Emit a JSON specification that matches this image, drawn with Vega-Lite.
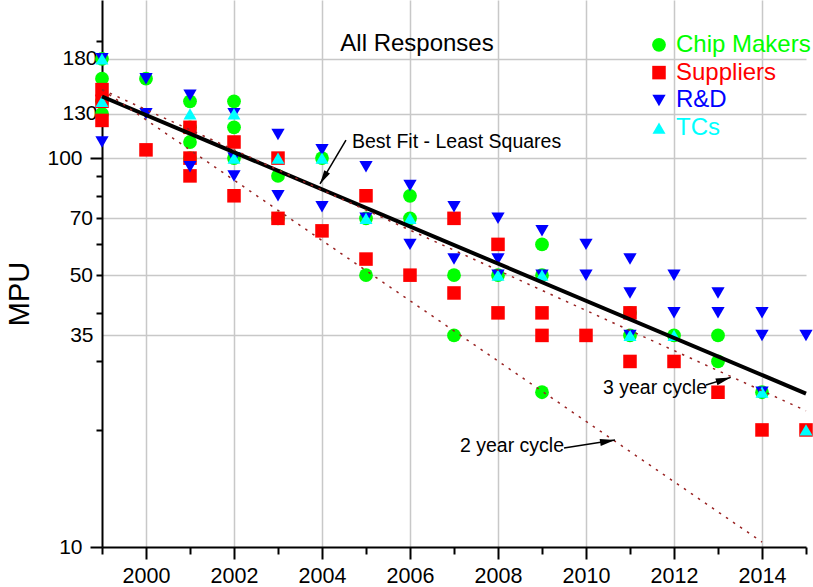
{
  "$schema": "https://vega.github.io/schema/vega-lite/v6.json",
  "width": 704,
  "height": 547,
  "autosize": {"type": "none"},
  "padding": {"left": 102, "top": 0, "right": 7, "bottom": 40},
  "background": "white",
  "config": {"font": "Liberation Sans", "view": {"stroke": null}},
  "datasets": {
    "responses": [
      {"series": "Chip Makers", "year": 1999, "mpu": 180},
      {"series": "Chip Makers", "year": 1999, "mpu": 160},
      {"series": "Chip Makers", "year": 1999, "mpu": 140},
      {"series": "Chip Makers", "year": 1999, "mpu": 130},
      {"series": "Chip Makers", "year": 2000, "mpu": 160},
      {"series": "Chip Makers", "year": 2001, "mpu": 140},
      {"series": "Chip Makers", "year": 2001, "mpu": 120},
      {"series": "Chip Makers", "year": 2001, "mpu": 110},
      {"series": "Chip Makers", "year": 2001, "mpu": 100},
      {"series": "Chip Makers", "year": 2002, "mpu": 140},
      {"series": "Chip Makers", "year": 2002, "mpu": 120},
      {"series": "Chip Makers", "year": 2002, "mpu": 100},
      {"series": "Chip Makers", "year": 2003, "mpu": 90},
      {"series": "Chip Makers", "year": 2003, "mpu": 70},
      {"series": "Chip Makers", "year": 2004, "mpu": 100},
      {"series": "Chip Makers", "year": 2005, "mpu": 70},
      {"series": "Chip Makers", "year": 2005, "mpu": 50},
      {"series": "Chip Makers", "year": 2006, "mpu": 80},
      {"series": "Chip Makers", "year": 2006, "mpu": 70},
      {"series": "Chip Makers", "year": 2007, "mpu": 50},
      {"series": "Chip Makers", "year": 2007, "mpu": 35},
      {"series": "Chip Makers", "year": 2008, "mpu": 50},
      {"series": "Chip Makers", "year": 2009, "mpu": 60},
      {"series": "Chip Makers", "year": 2009, "mpu": 50},
      {"series": "Chip Makers", "year": 2009, "mpu": 25},
      {"series": "Chip Makers", "year": 2011, "mpu": 40},
      {"series": "Chip Makers", "year": 2011, "mpu": 35},
      {"series": "Chip Makers", "year": 2012, "mpu": 35},
      {"series": "Chip Makers", "year": 2013, "mpu": 35},
      {"series": "Chip Makers", "year": 2013, "mpu": 30},
      {"series": "Chip Makers", "year": 2014, "mpu": 25},
      {"series": "Suppliers", "year": 1999, "mpu": 150},
      {"series": "Suppliers", "year": 1999, "mpu": 140},
      {"series": "Suppliers", "year": 1999, "mpu": 125},
      {"series": "Suppliers", "year": 2000, "mpu": 105},
      {"series": "Suppliers", "year": 2001, "mpu": 120},
      {"series": "Suppliers", "year": 2001, "mpu": 100},
      {"series": "Suppliers", "year": 2001, "mpu": 90},
      {"series": "Suppliers", "year": 2002, "mpu": 110},
      {"series": "Suppliers", "year": 2002, "mpu": 80},
      {"series": "Suppliers", "year": 2003, "mpu": 100},
      {"series": "Suppliers", "year": 2003, "mpu": 70},
      {"series": "Suppliers", "year": 2004, "mpu": 65},
      {"series": "Suppliers", "year": 2005, "mpu": 80},
      {"series": "Suppliers", "year": 2005, "mpu": 55},
      {"series": "Suppliers", "year": 2006, "mpu": 50},
      {"series": "Suppliers", "year": 2007, "mpu": 70},
      {"series": "Suppliers", "year": 2007, "mpu": 45},
      {"series": "Suppliers", "year": 2008, "mpu": 60},
      {"series": "Suppliers", "year": 2008, "mpu": 40},
      {"series": "Suppliers", "year": 2009, "mpu": 40},
      {"series": "Suppliers", "year": 2009, "mpu": 35},
      {"series": "Suppliers", "year": 2010, "mpu": 35},
      {"series": "Suppliers", "year": 2011, "mpu": 40},
      {"series": "Suppliers", "year": 2011, "mpu": 30},
      {"series": "Suppliers", "year": 2012, "mpu": 30},
      {"series": "Suppliers", "year": 2013, "mpu": 25},
      {"series": "Suppliers", "year": 2014, "mpu": 20},
      {"series": "Suppliers", "year": 2015, "mpu": 20},
      {"series": "R&D", "year": 1999, "mpu": 180},
      {"series": "R&D", "year": 1999, "mpu": 110},
      {"series": "R&D", "year": 2000, "mpu": 160},
      {"series": "R&D", "year": 2000, "mpu": 130},
      {"series": "R&D", "year": 2001, "mpu": 145},
      {"series": "R&D", "year": 2001, "mpu": 95},
      {"series": "R&D", "year": 2002, "mpu": 130},
      {"series": "R&D", "year": 2002, "mpu": 100},
      {"series": "R&D", "year": 2002, "mpu": 90},
      {"series": "R&D", "year": 2003, "mpu": 115},
      {"series": "R&D", "year": 2003, "mpu": 80},
      {"series": "R&D", "year": 2004, "mpu": 105},
      {"series": "R&D", "year": 2004, "mpu": 75},
      {"series": "R&D", "year": 2005, "mpu": 95},
      {"series": "R&D", "year": 2005, "mpu": 70},
      {"series": "R&D", "year": 2006, "mpu": 85},
      {"series": "R&D", "year": 2006, "mpu": 60},
      {"series": "R&D", "year": 2007, "mpu": 75},
      {"series": "R&D", "year": 2007, "mpu": 55},
      {"series": "R&D", "year": 2008, "mpu": 70},
      {"series": "R&D", "year": 2008, "mpu": 55},
      {"series": "R&D", "year": 2008, "mpu": 50},
      {"series": "R&D", "year": 2009, "mpu": 65},
      {"series": "R&D", "year": 2009, "mpu": 50},
      {"series": "R&D", "year": 2010, "mpu": 60},
      {"series": "R&D", "year": 2010, "mpu": 50},
      {"series": "R&D", "year": 2011, "mpu": 55},
      {"series": "R&D", "year": 2011, "mpu": 45},
      {"series": "R&D", "year": 2011, "mpu": 35},
      {"series": "R&D", "year": 2012, "mpu": 50},
      {"series": "R&D", "year": 2012, "mpu": 40},
      {"series": "R&D", "year": 2013, "mpu": 45},
      {"series": "R&D", "year": 2013, "mpu": 40},
      {"series": "R&D", "year": 2014, "mpu": 40},
      {"series": "R&D", "year": 2014, "mpu": 35},
      {"series": "R&D", "year": 2014, "mpu": 25},
      {"series": "R&D", "year": 2015, "mpu": 35},
      {"series": "TCs", "year": 1999, "mpu": 180},
      {"series": "TCs", "year": 1999, "mpu": 140},
      {"series": "TCs", "year": 2001, "mpu": 130},
      {"series": "TCs", "year": 2002, "mpu": 130},
      {"series": "TCs", "year": 2002, "mpu": 100},
      {"series": "TCs", "year": 2003, "mpu": 100},
      {"series": "TCs", "year": 2004, "mpu": 100},
      {"series": "TCs", "year": 2005, "mpu": 70},
      {"series": "TCs", "year": 2006, "mpu": 70},
      {"series": "TCs", "year": 2008, "mpu": 50},
      {"series": "TCs", "year": 2009, "mpu": 50},
      {"series": "TCs", "year": 2011, "mpu": 35},
      {"series": "TCs", "year": 2012, "mpu": 35},
      {"series": "TCs", "year": 2014, "mpu": 25},
      {"series": "TCs", "year": 2015, "mpu": 20}
    ],
    "trend": [
      {"line": "fit", "year": 1999, "mpu": 144},
      {"line": "fit", "year": 2015, "mpu": 24.8},
      {"line": "three", "year": 1999, "mpu": 150},
      {"line": "three", "year": 2015, "mpu": 22.4},
      {"line": "two", "year": 1999, "mpu": 150},
      {"line": "two", "year": 2014, "mpu": 10.3}
    ]
  },
  "layer": [
    {
      "data": {"name": "responses"},
      "mark": {"type": "point", "filled": true, "opacity": 1, "strokeWidth": 0},
      "encoding": {
        "x": {
          "field": "year", "type": "quantitative",
          "scale": {"domain": [1999, 2015], "nice": false, "zero": false},
          "axis": {
            "values": [1999, 2000, 2001, 2002, 2003, 2004, 2005, 2006, 2007, 2008, 2009, 2010, 2011, 2012, 2013, 2014, 2015],
            "format": "d",
            "labelExpr": "datum.value % 2 == 0 ? datum.label : ''",
            "labelFontSize": 21.5, "labelColor": "black",
            "labelOverlap": false, "labelFlush": false, "labelBound": false,
            "tickSize": {"condition": {"test": "datum.value % 2 == 0", "value": 12}, "value": 7},
            "labelPadding": 6.5,
            "tickColor": "black", "tickWidth": 2,
            "domainColor": "black", "domainWidth": 2,
            "grid": true, "gridColor": "#c8c8c8", "gridWidth": 1.5,
            "gridOpacity": {"condition": {"test": "datum.value % 2 == 0", "value": 1}, "value": 0},
            "title": null
          }
        },
        "y": {
          "field": "mpu", "type": "quantitative",
          "scale": {"type": "log", "domain": [10, 255], "nice": false},
          "axis": {
            "values": [10, 20, 30, 35, 40, 50, 60, 70, 80, 90, 100, 130, 180, 200],
            "format": "d",
            "labelExpr": "indexof([10,35,50,70,100,130,180], datum.value) >= 0 ? datum.label : ''",
            "labelFontSize": 21, "labelColor": "black",
            "labelOverlap": false, "labelFlush": false, "labelBound": false,
            "tickSize": {"condition": [
              {"test": "datum.value == 10 || datum.value == 100", "value": 12},
              {"test": "datum.value == 35 || datum.value == 130 || datum.value == 180", "value": 0}
            ], "value": 6},
            "labelPadding": {"condition": [
              {"test": "datum.value == 10 || datum.value == 100", "value": 8},
              {"test": "datum.value == 35", "value": 9},
              {"test": "datum.value == 130 || datum.value == 180", "value": 5}
            ], "value": 3.5},
            "tickColor": "black", "tickWidth": 2,
            "domainColor": "black", "domainWidth": 2,
            "grid": true, "gridColor": "#c8c8c8", "gridWidth": 1.5,
            "gridOpacity": {"condition": {"test": "indexof([35,50,70,100,130,180], datum.value) >= 0", "value": 1}, "value": 0},
            "title": "MPU", "titleFontSize": 29, "titleFontWeight": "normal", "titleColor": "black",
            "titleX": -74, "titleY": 293.5, "titleAngle": 270, "titleAlign": "center", "titleBaseline": "alphabetic"
          }
        },
        "color": {
          "field": "series", "type": "nominal",
          "scale": {"domain": ["Chip Makers", "Suppliers", "R&D", "TCs"], "range": ["#00ff00", "#ff0000", "#0000ff", "#00ffff"]},
          "legend": {
            "orient": "none", "legendX": 545, "legendY": 32.8,
            "title": null, "padding": 0,
            "symbolType": "circle", "symbolSize": 196, "symbolStrokeWidth": 0,
            "labelFontSize": 24, "labelOffset": 5, "rowPadding": 3.8, "labelLimit": 300,
            "labelColor": {"expr": "datum.label == 'Chip Makers' ? '#00ff00' : datum.label == 'Suppliers' ? '#ff0000' : datum.label == 'R&D' ? '#0000ff' : '#00ffff'"}
          }
        },
        "shape": {
          "field": "series", "type": "nominal",
          "scale": {"domain": ["Chip Makers", "Suppliers", "R&D", "TCs"], "range": ["circle", "square", "triangle-down", "triangle-up"]},
          "legend": null
        },
        "size": {
          "field": "series", "type": "ordinal",
          "scale": {"domain": ["Chip Makers", "Suppliers", "R&D", "TCs"], "range": [190, 169, 144, 90]},
          "legend": null
        }
      }
    },
    {
      "data": {"name": "trend"},
      "transform": [{"filter": "datum.line == 'fit'"}],
      "mark": {"type": "line", "color": "black", "strokeWidth": 4},
      "encoding": {"x": {"field": "year", "type": "quantitative"}, "y": {"field": "mpu", "type": "quantitative"}}
    },
    {
      "data": {"name": "trend"},
      "transform": [{"filter": "datum.line == 'three'"}],
      "mark": {"type": "line", "color": "#992222", "strokeWidth": 1.5, "strokeDash": [2.5, 6]},
      "encoding": {"x": {"field": "year", "type": "quantitative"}, "y": {"field": "mpu", "type": "quantitative"}}
    },
    {
      "data": {"name": "trend"},
      "transform": [{"filter": "datum.line == 'two'"}],
      "mark": {"type": "line", "color": "#992222", "strokeWidth": 1.5, "strokeDash": [2.5, 6]},
      "encoding": {"x": {"field": "year", "type": "quantitative"}, "y": {"field": "mpu", "type": "quantitative"}}
    },
    {
      "data": {"values": [{"label": "All Responses"}]},
      "mark": {"type": "text", "fontSize": 24, "align": "center", "baseline": "alphabetic", "color": "black"},
      "encoding": {"x": {"datum": 2006.159}, "y": {"datum": 188.4}, "text": {"field": "label"}}
    },
    {
      "data": {"values": [{"label": "Best Fit - Least Squares"}]},
      "mark": {"type": "text", "fontSize": 19.5, "align": "left", "baseline": "alphabetic", "color": "black"},
      "encoding": {"x": {"datum": 2004.682}, "y": {"datum": 106.1}, "text": {"field": "label"}}
    },
    {
      "data": {"values": [{"label": "3 year cycle"}]},
      "mark": {"type": "text", "fontSize": 19.5, "align": "left", "baseline": "alphabetic", "color": "black"},
      "encoding": {"x": {"datum": 2010.386}, "y": {"datum": 24.74}, "text": {"field": "label"}}
    },
    {
      "data": {"values": [{"label": "2 year cycle"}]},
      "mark": {"type": "text", "fontSize": 19.5, "align": "left", "baseline": "alphabetic", "color": "black"},
      "encoding": {"x": {"datum": 2007.136}, "y": {"datum": 17.55}, "text": {"field": "label"}}
    },
    {
      "data": {"values": [{"arrow": "fit"}]},
      "mark": {"type": "rule", "color": "black", "strokeWidth": 1.5},
      "encoding": {"x": {"datum": 2004.545}, "y": {"datum": 111.2}, "x2": {"datum": 2003.955}, "y2": {"datum": 85.8}}
    },
    {
      "data": {"values": [{"arrow": "three"}]},
      "mark": {"type": "rule", "color": "black", "strokeWidth": 1.5},
      "encoding": {"x": {"datum": 2012.727}, "y": {"datum": 26.1}, "x2": {"datum": 2013.289}, "y2": {"datum": 27.3}}
    },
    {
      "data": {"values": [{"arrow": "two"}]},
      "mark": {"type": "rule", "color": "black", "strokeWidth": 1.5},
      "encoding": {"x": {"datum": 2009.5}, "y": {"datum": 17.97}, "x2": {"datum": 2010.659}, "y2": {"datum": 18.84}}
    },
    {
      "data": {"values": [{"arrow": "fit"}]},
      "mark": {"type": "point", "shape": "M0,0L0.47,2L-0.47,2Z", "size": 196, "filled": true, "opacity": 1, "color": "black", "strokeWidth": 0, "angle": 210.6},
      "encoding": {"x": {"datum": 2003.955}, "y": {"datum": 85.8}}
    },
    {
      "data": {"values": [{"arrow": "three"}]},
      "mark": {"type": "point", "shape": "M0,0L0.47,2L-0.47,2Z", "size": 225, "filled": true, "opacity": 1, "color": "black", "strokeWidth": 0, "angle": 72.7},
      "encoding": {"x": {"datum": 2013.289}, "y": {"datum": 27.3}}
    },
    {
      "data": {"values": [{"arrow": "two"}]},
      "mark": {"type": "point", "shape": "M0,0L0.47,2L-0.47,2Z", "size": 225, "filled": true, "opacity": 1, "color": "black", "strokeWidth": 0, "angle": 80.8},
      "encoding": {"x": {"datum": 2010.659}, "y": {"datum": 18.84}}
    }
  ]
}
